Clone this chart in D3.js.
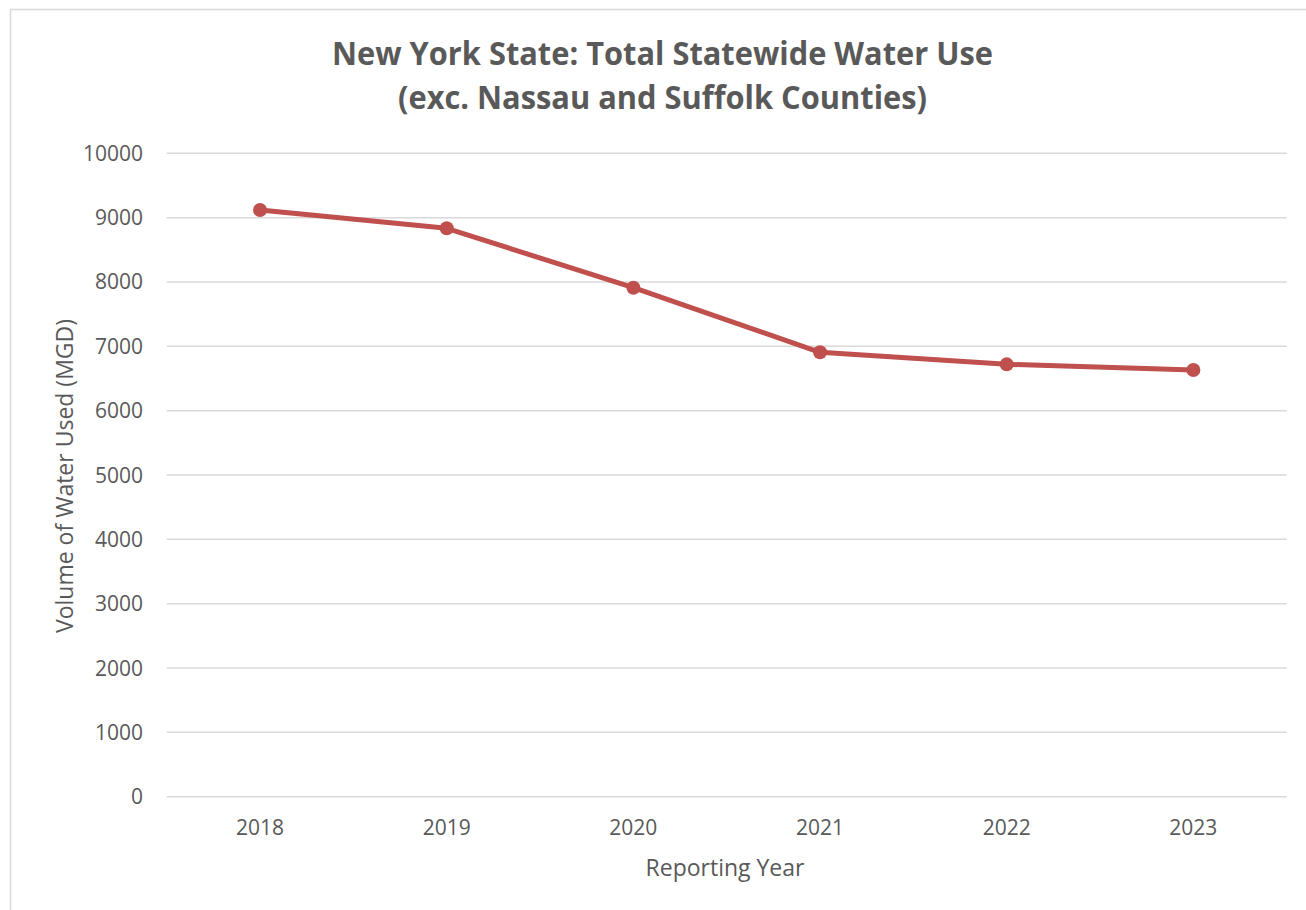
<!DOCTYPE html>
<html>
<head>
<meta charset="utf-8">
<script src="https://cdn.jsdelivr.net/npm/d3@7"></script>
<style>
  body { margin: 0; background: #fff; }
  text { font-family: "Open Sans", sans-serif; fill: #595959; }
</style>
</head>
<body>
<svg id="chart" width="1306" height="910"></svg>
<script>
const years = ["2018", "2019", "2020", "2021", "2022", "2023"]
const waterUse = [9119, 8834, 7911, 6907, 6720, 6632]
const yTicks = [0, 1000, 2000, 3000, 4000, 5000, 6000, 7000, 8000, 9000, 10000]
const titleLines = ["New York State: Total Statewide Water Use", "(exc. Nassau and Suffolk Counties)"]

const svg = d3.select("#chart")

// chart frame
svg.append("rect")
  .attr("x", 10.5).attr("y", 9.5)
  .attr("width", 1310).attr("height", 920)
  .attr("fill", "none")
  .attr("stroke", "#d9d9d9")
  .attr("stroke-width", 1.5)

const x = d3.scalePoint().domain(years).range([166.7, 1286.7]).padding(0.5)
const y = d3.scaleLinear().domain([0, 10000]).range([796.7, 153.3])

// gridlines
svg.append("g")
  .selectAll("line")
  .data(yTicks)
  .join("line")
  .attr("x1", 166.7).attr("x2", 1286.7)
  .attr("y1", (d) => y(d)).attr("y2", (d) => y(d))
  .attr("stroke", "#d9d9d9")
  .attr("stroke-width", 1.5)

// y tick labels
svg.append("g")
  .selectAll("text")
  .data(yTicks)
  .join("text")
  .attr("x", 143)
  .attr("y", (d) => y(d) + 7.5)
  .attr("text-anchor", "end")
  .style("font-size", "21px")
  .text((d) => d)

// x tick labels
svg.append("g")
  .selectAll("text")
  .data(years)
  .join("text")
  .attr("x", (d) => x(d))
  .attr("y", 835)
  .attr("text-anchor", "middle")
  .style("font-size", "21px")
  .text((d) => d)

// line
const line = d3.line()
  .x((d, i) => x(years[i]))
  .y((d) => y(d))

svg.append("path")
  .datum(waterUse)
  .attr("d", line)
  .attr("fill", "none")
  .attr("stroke", "#c0504d")
  .attr("stroke-width", 5)
  .attr("stroke-linejoin", "round")
  .attr("stroke-linecap", "round")

svg.append("g")
  .selectAll("circle")
  .data(waterUse)
  .join("circle")
  .attr("cx", (d, i) => x(years[i]))
  .attr("cy", (d) => y(d))
  .attr("r", 7)
  .attr("fill", "#c0504d")

// title
svg.append("text")
  .attr("x", 662.5).attr("y", 65)
  .attr("text-anchor", "middle")
  .attr("textLength", 661)
  .attr("lengthAdjust", "spacingAndGlyphs")
  .style("font-size", "32px")
  .style("font-weight", "bold")
  .text(titleLines[0])

svg.append("text")
  .attr("x", 662.5).attr("y", 109)
  .attr("text-anchor", "middle")
  .attr("textLength", 529)
  .attr("lengthAdjust", "spacingAndGlyphs")
  .style("font-size", "32px")
  .style("font-weight", "bold")
  .text(titleLines[1])

// axis titles
svg.append("text")
  .attr("x", 725).attr("y", 876)
  .attr("text-anchor", "middle")
  .style("font-size", "23px")
  .text("Reporting Year")

svg.append("text")
  .attr("transform", "translate(73,476) rotate(-90)")
  .attr("text-anchor", "middle")
  .style("font-size", "23px")
  .text("Volume of Water Used (MGD)")
</script>
</body>
</html>
